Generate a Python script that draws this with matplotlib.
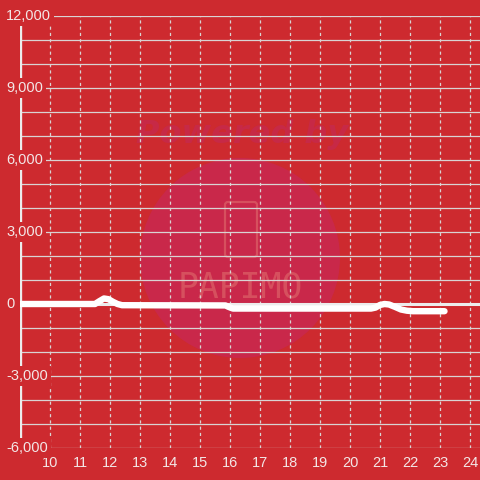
import matplotlib
matplotlib.use("Agg")
import matplotlib.pyplot as plt
from matplotlib.patches import Circle, FancyBboxPatch
from matplotlib.transforms import blended_transform_factory

# ---- data ----
hours = [9.0, 11.5, 11.65, 11.8, 11.95, 12.1, 12.25, 12.4,
         15.85, 15.95, 16.1, 20.7, 20.85, 21.0, 21.15, 21.3, 21.5, 21.7, 21.9, 22.1, 23.15]
values = [0, 0, 120, 230, 200, 90, 0, -50,
          -60, -120, -190, -190, -150, -40, 0, -20, -120, -230, -280, -300, -300]
x_ticks = list(range(10, 25))
y_major = [-6000, -3000, 0, 3000, 6000, 9000, 12000]
y_minor = list(range(-6000, 12001, 1000))

bg = "#cd2a2f"
grid_c = "#d9d3d3"
text_c = "#f3e6e6"
W = H = 480

fig = plt.figure(figsize=(4.8, 4.8), dpi=100, facecolor=bg)
ax = fig.add_axes([20 / W, 32 / H, 460 / W, 432 / H])
ax.set_facecolor(bg)
ax.set_xlim(9, 9 + 460 / 30)
ax.set_ylim(-6000, 12000)
for s in ax.spines.values():
    s.set_visible(False)

# watermark
circ = Circle((240 / W, 1 - 258 / H), 100 / W, transform=fig.transFigure,
              facecolor="#c9284a", edgecolor="none", zorder=0.2)
ax.add_patch(circ)
ax.text(242 / W, 1 - 135 / H, "Powered by", transform=fig.transFigure,
        ha="center", va="center", fontsize=23, fontweight="bold", fontstyle="italic",
        color="#c72946", zorder=0.3)
ax.text(240 / W, 1 - 288 / H, "PAPIMO", transform=fig.transFigure,
        ha="center", va="center", fontsize=25, color="#d6505e", zorder=0.3,
        family="DejaVu Sans Mono")
phone = FancyBboxPatch((225 / W, 1 - 257 / H), 32 / W, 55 / H,
                       boxstyle="round,pad=0,rounding_size=0.006",
                       transform=fig.transFigure, facecolor="none",
                       edgecolor="#d6505e", lw=1.6, zorder=0.3)
ax.add_patch(phone)

# grid
for yv in y_minor:
    ax.axhline(yv, color=grid_c, lw=0.9, zorder=1)
for xv in x_ticks:
    ax.axvline(xv, color=grid_c, lw=0.9, ls=(0, (2.5, 2.5)), zorder=1)
ax.axhline(0, color="#ececec", lw=2.2, zorder=1.5)
ax.axvline(9, color="#ececec", lw=2.4, zorder=1.5)

# data line
ax.plot(hours, values, color="white", lw=4.6, solid_capstyle="round",
        solid_joinstyle="round", zorder=3)

# ticks
ax.set_yticks([])
ax.set_xticks(x_ticks)
ax.set_xticklabels([str(t) for t in x_ticks], color=text_c, fontsize=10.5,
                   family="Liberation Sans")
ax.tick_params(axis="x", length=0, pad=6)

trans = blended_transform_factory(fig.transFigure, ax.transData)
for yv in y_major:
    ax.text(6 / W, yv, f"{yv:,}", transform=trans, ha="left", va="center",
            fontsize=10.5, color=text_c, family="Liberation Sans", zorder=4,
            bbox=dict(boxstyle="square,pad=0.2", facecolor=bg, edgecolor="none"),
            clip_on=False)

fig.savefig("out.png", dpi=100, facecolor=bg)
